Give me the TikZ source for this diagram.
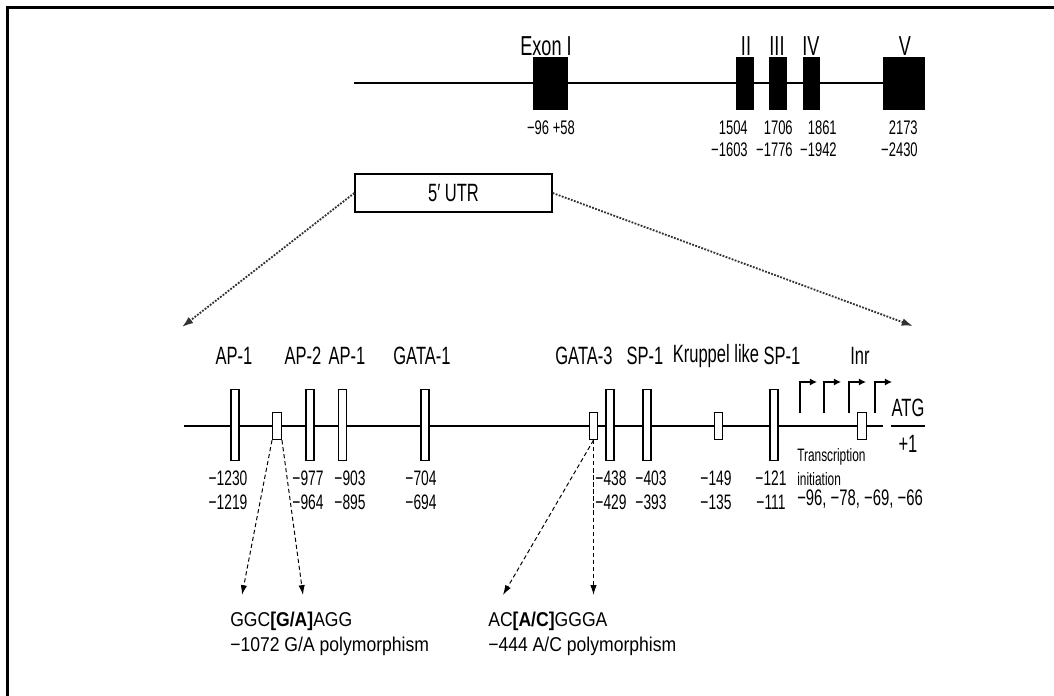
\documentclass[tikz,border=0pt]{standalone}
\usepackage{fontspec}
\setmainfont{Liberation Sans}[FakeStretch=0.66]
\newfontfamily\polyfont{Liberation Sans}[FakeStretch=0.88]
\usetikzlibrary{arrows.meta, positioning, calc}

\begin{document}
\begin{tikzpicture}[x=0.025cm, y=-0.025cm, >=Stealth,
  exon/.style={draw, fill=black, inner sep=0pt, minimum height=1.3cm},
  site/.style={draw, fill=white, inner sep=0pt, line width=0.8pt,
               minimum width=0.2cm},
  tallsite/.style={site, minimum height=1.78cm},
  smallsite/.style={site, minimum width=0.22cm, minimum height=0.68cm},
  lbl/.style={font=\fontsize{17.8}{20}\selectfont, inner sep=0pt},
  exlbl/.style={font=\fontsize{19.5}{22}\selectfont, inner sep=0pt},
  num/.style={font=\fontsize{14.9}{17}\selectfont, align=center, inner sep=0pt},
  exnum/.style={font=\fontsize{14}{15.6}\selectfont, align=right, inner sep=0pt},
  poly/.style={font=\polyfont\fontsize{14.2}{17.8}\selectfont, align=left,
               inner sep=0pt},
  zoomto/.style={densely dotted, line width=1.3pt, black!80,
                 -{Latex[length=8pt, width=5.5pt]}},
  snp/.style={dash pattern=on 3pt off 2pt, line width=0.7pt,
              -{Latex[length=7pt, width=4.5pt]}},
  tss/.style={line width=0.9pt, -{Latex[length=5pt, width=5pt]}}]
  \useasboundingbox (0,0) rectangle (1054,696);
  \draw[line width=1.9pt] (7.5,696) -- (7.5,7.5) -- (1054,7.5);

  % gene with exons
  \coordinate (gstart) at (354,83);
  \node[exon, minimum width=0.85cm] (ex1) at (550,83) {};
  \node[exon, minimum width=0.43cm] (ex2) at (744.5,83) {};
  \node[exon, minimum width=0.42cm] (ex3) at (777.5,83) {};
  \node[exon, minimum width=0.41cm] (ex4) at (811,83) {};
  \node[exon, minimum width=1.03cm] (ex5) at (903.5,83) {};
  \draw[line width=1.1pt] (gstart) -- (ex5.west);
  \node[exlbl] (lex1) at (546,46) {Exon I};
  \node[exlbl] (lex2) at (746,46) {II};
  \node[exlbl] (lex3) at (777,46) {III};
  \node[exlbl] (lex4) at (811,46) {IV};
  \node[exlbl] (lex5) at (905,46) {V};
  \node[exnum] (nex1) at (551,128) {−96 +58};
  \node[exnum, anchor=east] (nex2) at (748,139) {1504\\−1603};
  \node[exnum, anchor=east] (nex3) at (793,139) {1706\\−1776};
  \node[exnum, anchor=east] (nex4) at (837,139) {1861\\−1942};
  \node[exnum, anchor=east] (nex5) at (918,139) {2173\\−2430};

  % 5' UTR and zoom
  \node[draw, line width=0.9pt, inner sep=0pt, minimum width=4.925cm,
        minimum height=0.95cm, font=\fontsize{17.8}{20}\selectfont]
        (utr) at (453.5,193) {5′ UTR};
  \coordinate (zl) at (182,327);
  \coordinate (zr) at (913,326);
  \draw[zoomto] (utr.west) -- (zl);
  \draw[zoomto] (utr.east) -- (zr);

  % promoter
  \coordinate (pstart) at (184,426);
  \coordinate (pend) at (883,426);
  \draw[line width=0.9pt] (pstart) -- (pend);
  \node[tallsite] (ap1a) at (235,425) {};
  \node[smallsite] (ga) at (277,426) {};
  \node[tallsite] (ap2) at (310,425) {};
  \node[tallsite] (ap1b) at (342.5,425) {};
  \node[tallsite] (gata1) at (425,425) {};
  \node[smallsite] (gata3) at (593.5,426) {};
  \node[tallsite] (s438) at (610,425) {};
  \node[tallsite] (sp1a) at (647,425) {};
  \node[smallsite] (krup) at (718.5,426) {};
  \node[tallsite] (sp1b) at (774,425) {};
  \node[smallsite] (inr) at (862,426) {};

  \node[lbl] (lap1a) at (234,356) {AP-1};
  \node[lbl] (lap2) at (303,356) {AP-2};
  \node[lbl] (lap1b) at (347,356) {AP-1};
  \node[lbl] (lgata1) at (422,356) {GATA-1};
  \node[lbl] (lgata3) at (584,356) {GATA-3};
  \node[lbl] (lsp1a) at (645,356) {SP-1};
  \node[lbl] (lkrup) at (716,356) {Kruppel like};
  \node[lbl] (lsp1b) at (782,356) {SP-1};
  \node[lbl] (linr) at (860,356) {Inr};

  \node[num] (n1) at (228,490) {−1230\\−1219};
  \node[num] (n2) at (308,490) {−977\\−964};
  \node[num] (n3) at (350,490) {−903\\−895};
  \node[num] (n4) at (421,490) {−704\\−694};
  \node[num] (n5) at (611,490) {−438\\−429};
  \node[num] (n6) at (651,490) {−403\\−393};
  \node[num] (n7) at (716,490) {−149\\−135};
  \node[num] (n8) at (771,490) {−121\\−111};

  % transcription start sites
  \foreach \x [count=\i] in {800,824,849,875} {
    \coordinate (tss\i) at (\x,413);
    \draw[tss] (tss\i) |- ++(17,-31);
  }
  \node[font=\fontsize{12.8}{17}\selectfont, align=left, inner sep=0pt,
        anchor=west] (tinit) at (797,467) {Transcription\\initiation};
  \node[num, font=\fontsize{16}{18}\selectfont, anchor=west]
        (tpos) at (797,499) {−96, −78, −69, −66};
  \node[lbl, anchor=south, minimum width=0.83cm] (atg) at (908,417) {ATG};
  \draw[line width=0.9pt] ([yshift=-6.4pt]atg.south west)
    -- ([yshift=-6.4pt]atg.south east);
  \node[lbl, anchor=base] (plus1) at (908,452) {+1};

  % polymorphisms
  \coordinate (ga1) at (242,595);
  \coordinate (ga2) at (303,595);
  \draw[snp] (ga.south west) -- (ga1);
  \draw[snp] (ga.south east) -- (ga2);
  \coordinate (ac1) at (503,595);
  \coordinate (ac2) at (593.5,595);
  \draw[snp] (gata3.south) -- (ac1);
  \draw[snp] (gata3.south) -- (ac2);
  \node[poly, anchor=north west] (snp1) at (230,612)
    {GGC\textbf{[G/A]}AGG\\−1072 G/A polymorphism};
  \node[poly, anchor=north west] (snp2) at (488,612)
    {AC\textbf{[A/C]}GGGA\\−444 A/C polymorphism};
\end{tikzpicture}
\end{document}
